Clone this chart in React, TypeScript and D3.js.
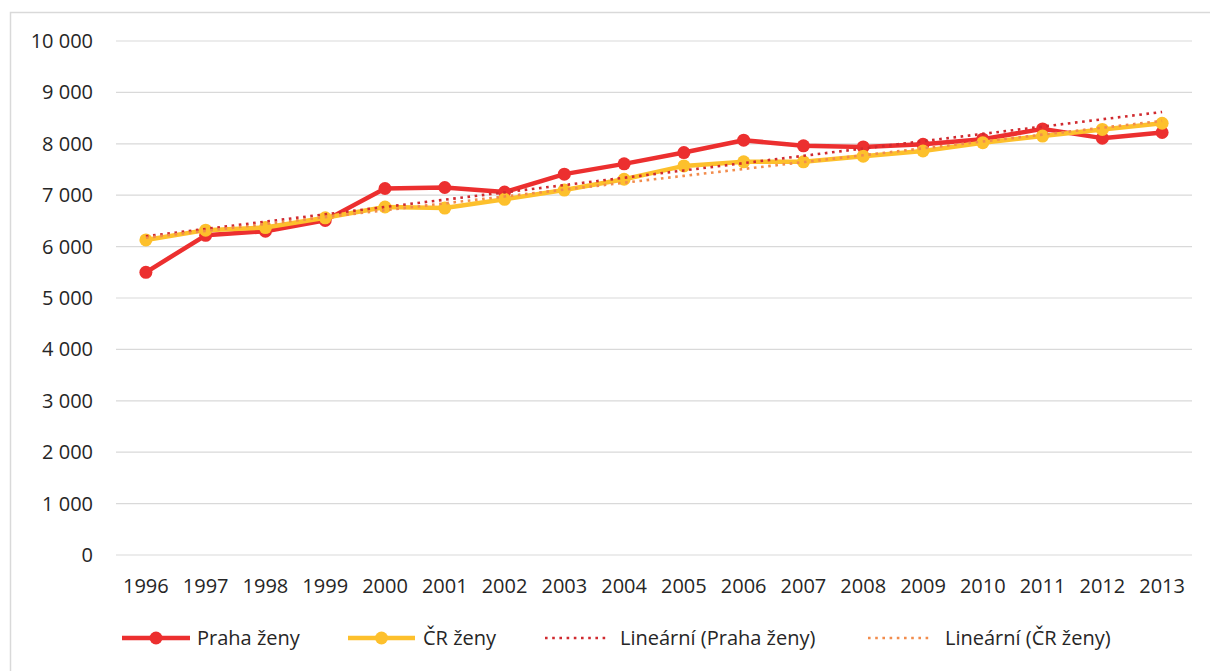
import { useEffect, useRef } from "react"
import * as d3 from "d3"

const years = ["1996", "1997", "1998", "1999", "2000", "2001", "2002", "2003", "2004", "2005", "2006", "2007", "2008", "2009", "2010", "2011", "2012", "2013"]
const prahaZeny = [5500, 6220, 6300, 6510, 7130, 7150, 7060, 7410, 7610, 7830, 8070, 7960, 7940, 7990, 8090, 8290, 8110, 8220]
const crZeny = [6130, 6320, 6370, 6560, 6770, 6750, 6920, 7100, 7310, 7570, 7650, 7650, 7760, 7860, 8020, 8150, 8280, 8400]
const yTicks = [0, 1000, 2000, 3000, 4000, 5000, 6000, 7000, 8000, 9000, 10000]
const legendLabels = ["Praha ženy", "ČR ženy", "Lineární (Praha ženy)", "Lineární (ČR ženy)"]

const RED = "#ec2f2f"
const GOLD = "#fdc02c"
const RED_TREND = "#d02a2f"
const ORANGE_TREND = "#f28c4c"
const FONT = "'Open Sans', Lato, sans-serif"
const FS = 20

// least squares fit over the category index
const linearFit = (vals: number[]) => {
  const n = vals.length
  const mx = (n - 1) / 2
  const my = d3.mean(vals) as number
  let num = 0
  let den = 0
  vals.forEach((v, i) => {
    num += (i - mx) * (v - my)
    den += (i - mx) * (i - mx)
  })
  const slope = num / den
  return vals.map((_, i) => my + slope * (i - mx))
}

const fmt = (v: number) => d3.format(",")(v).replace(/,/g, " ")

export default function App() {
  const ref = useRef<HTMLDivElement>(null)

  useEffect(() => {
    const root = d3.select(ref.current)
    root.selectAll("*").remove()

    const W = 1210
    const H = 671
    const svg = root.append("svg")
      .attr("width", W)
      .attr("height", H)
      .style("display", "block")
      .style("background", "#ffffff")

    // chart frame (runs off the right and bottom edges)
    svg.append("rect")
      .attr("x", 10.5)
      .attr("y", 12.5)
      .attr("width", 1220)
      .attr("height", 700)
      .attr("fill", "none")
      .attr("stroke", "#d9d9d9")
      .attr("stroke-width", 1.5)

    const x = d3.scaleBand<string>().domain(years).range([116, 1192]).padding(0)
    const y = d3.scaleLinear().domain([0, 10000]).range([555, 41])
    const cx = (i: number) => (x(years[i]) as number) + x.bandwidth() / 2

    // gridlines
    svg.append("g")
      .selectAll("line")
      .data(yTicks)
      .join("line")
      .attr("x1", 116)
      .attr("x2", 1192)
      .attr("y1", d => y(d))
      .attr("y2", d => y(d))
      .attr("stroke", "#d9d9d9")
      .attr("stroke-width", 1.2)

    // y labels
    svg.append("g")
      .selectAll("text")
      .data(yTicks)
      .join("text")
      .attr("x", 93)
      .attr("y", d => y(d) + 7)
      .attr("text-anchor", "end")
      .attr("font-family", FONT)
      .attr("font-size", FS)
      .attr("fill", "#262626")
      .text(d => fmt(d))

    // x labels
    svg.append("g")
      .selectAll("text")
      .data(years)
      .join("text")
      .attr("x", (_, i) => cx(i))
      .attr("y", 593)
      .attr("text-anchor", "middle")
      .attr("font-family", FONT)
      .attr("font-size", FS)
      .attr("fill", "#262626")
      .text(d => d)

    const line = d3.line<number>()
      .x((_, i) => cx(i))
      .y(d => y(d))

    const drawSeries = (vals: number[], color: string) => {
      svg.append("path")
        .datum(vals)
        .attr("d", line)
        .attr("fill", "none")
        .attr("stroke", color)
        .attr("stroke-width", 4.5)
        .attr("stroke-linejoin", "round")
      svg.append("g")
        .selectAll("circle")
        .data(vals)
        .join("circle")
        .attr("cx", (_, i) => cx(i))
        .attr("cy", d => y(d))
        .attr("r", 6.5)
        .attr("fill", color)
    }

    const drawTrend = (vals: number[], color: string) => {
      svg.append("path")
        .datum(linearFit(vals))
        .attr("d", line)
        .attr("fill", "none")
        .attr("stroke", color)
        .attr("stroke-width", 2.6)
        .attr("stroke-dasharray", "2.6 4.6")
    }

    drawSeries(prahaZeny, RED)
    drawSeries(crZeny, GOLD)
    drawTrend(prahaZeny, RED_TREND)
    drawTrend(crZeny, ORANGE_TREND)

    // legend
    const legY = 638
    const legend = svg.append("g")
    const items = [
      { x0: 122, x1: 190, text: 197, color: RED, dotted: false },
      { x0: 348, x1: 415, text: 423, color: GOLD, dotted: false },
      { x0: 545, x1: 608, text: 620, color: RED_TREND, dotted: true },
      { x0: 868, x1: 931, text: 945, color: ORANGE_TREND, dotted: true },
    ]
    items.forEach((it, k) => {
      legend.append("line")
        .attr("x1", it.x0)
        .attr("x2", it.x1)
        .attr("y1", legY)
        .attr("y2", legY)
        .attr("stroke", it.color)
        .attr("stroke-width", it.dotted ? 2.6 : 4.5)
        .attr("stroke-dasharray", it.dotted ? "2.6 4.6" : null)
      if (!it.dotted) {
        legend.append("circle")
          .attr("cx", (it.x0 + it.x1) / 2)
          .attr("cy", legY)
          .attr("r", 6.5)
          .attr("fill", it.color)
      }
      legend.append("text")
        .attr("x", it.text)
        .attr("y", legY + 7)
        .attr("font-family", FONT)
        .attr("font-size", FS)
        .attr("fill", "#262626")
        .text(legendLabels[k])
    })
  }, [])

  return <div ref={ref} style={{ position: "absolute", left: 0, top: 0, width: 1210, height: 671 }} />
}
